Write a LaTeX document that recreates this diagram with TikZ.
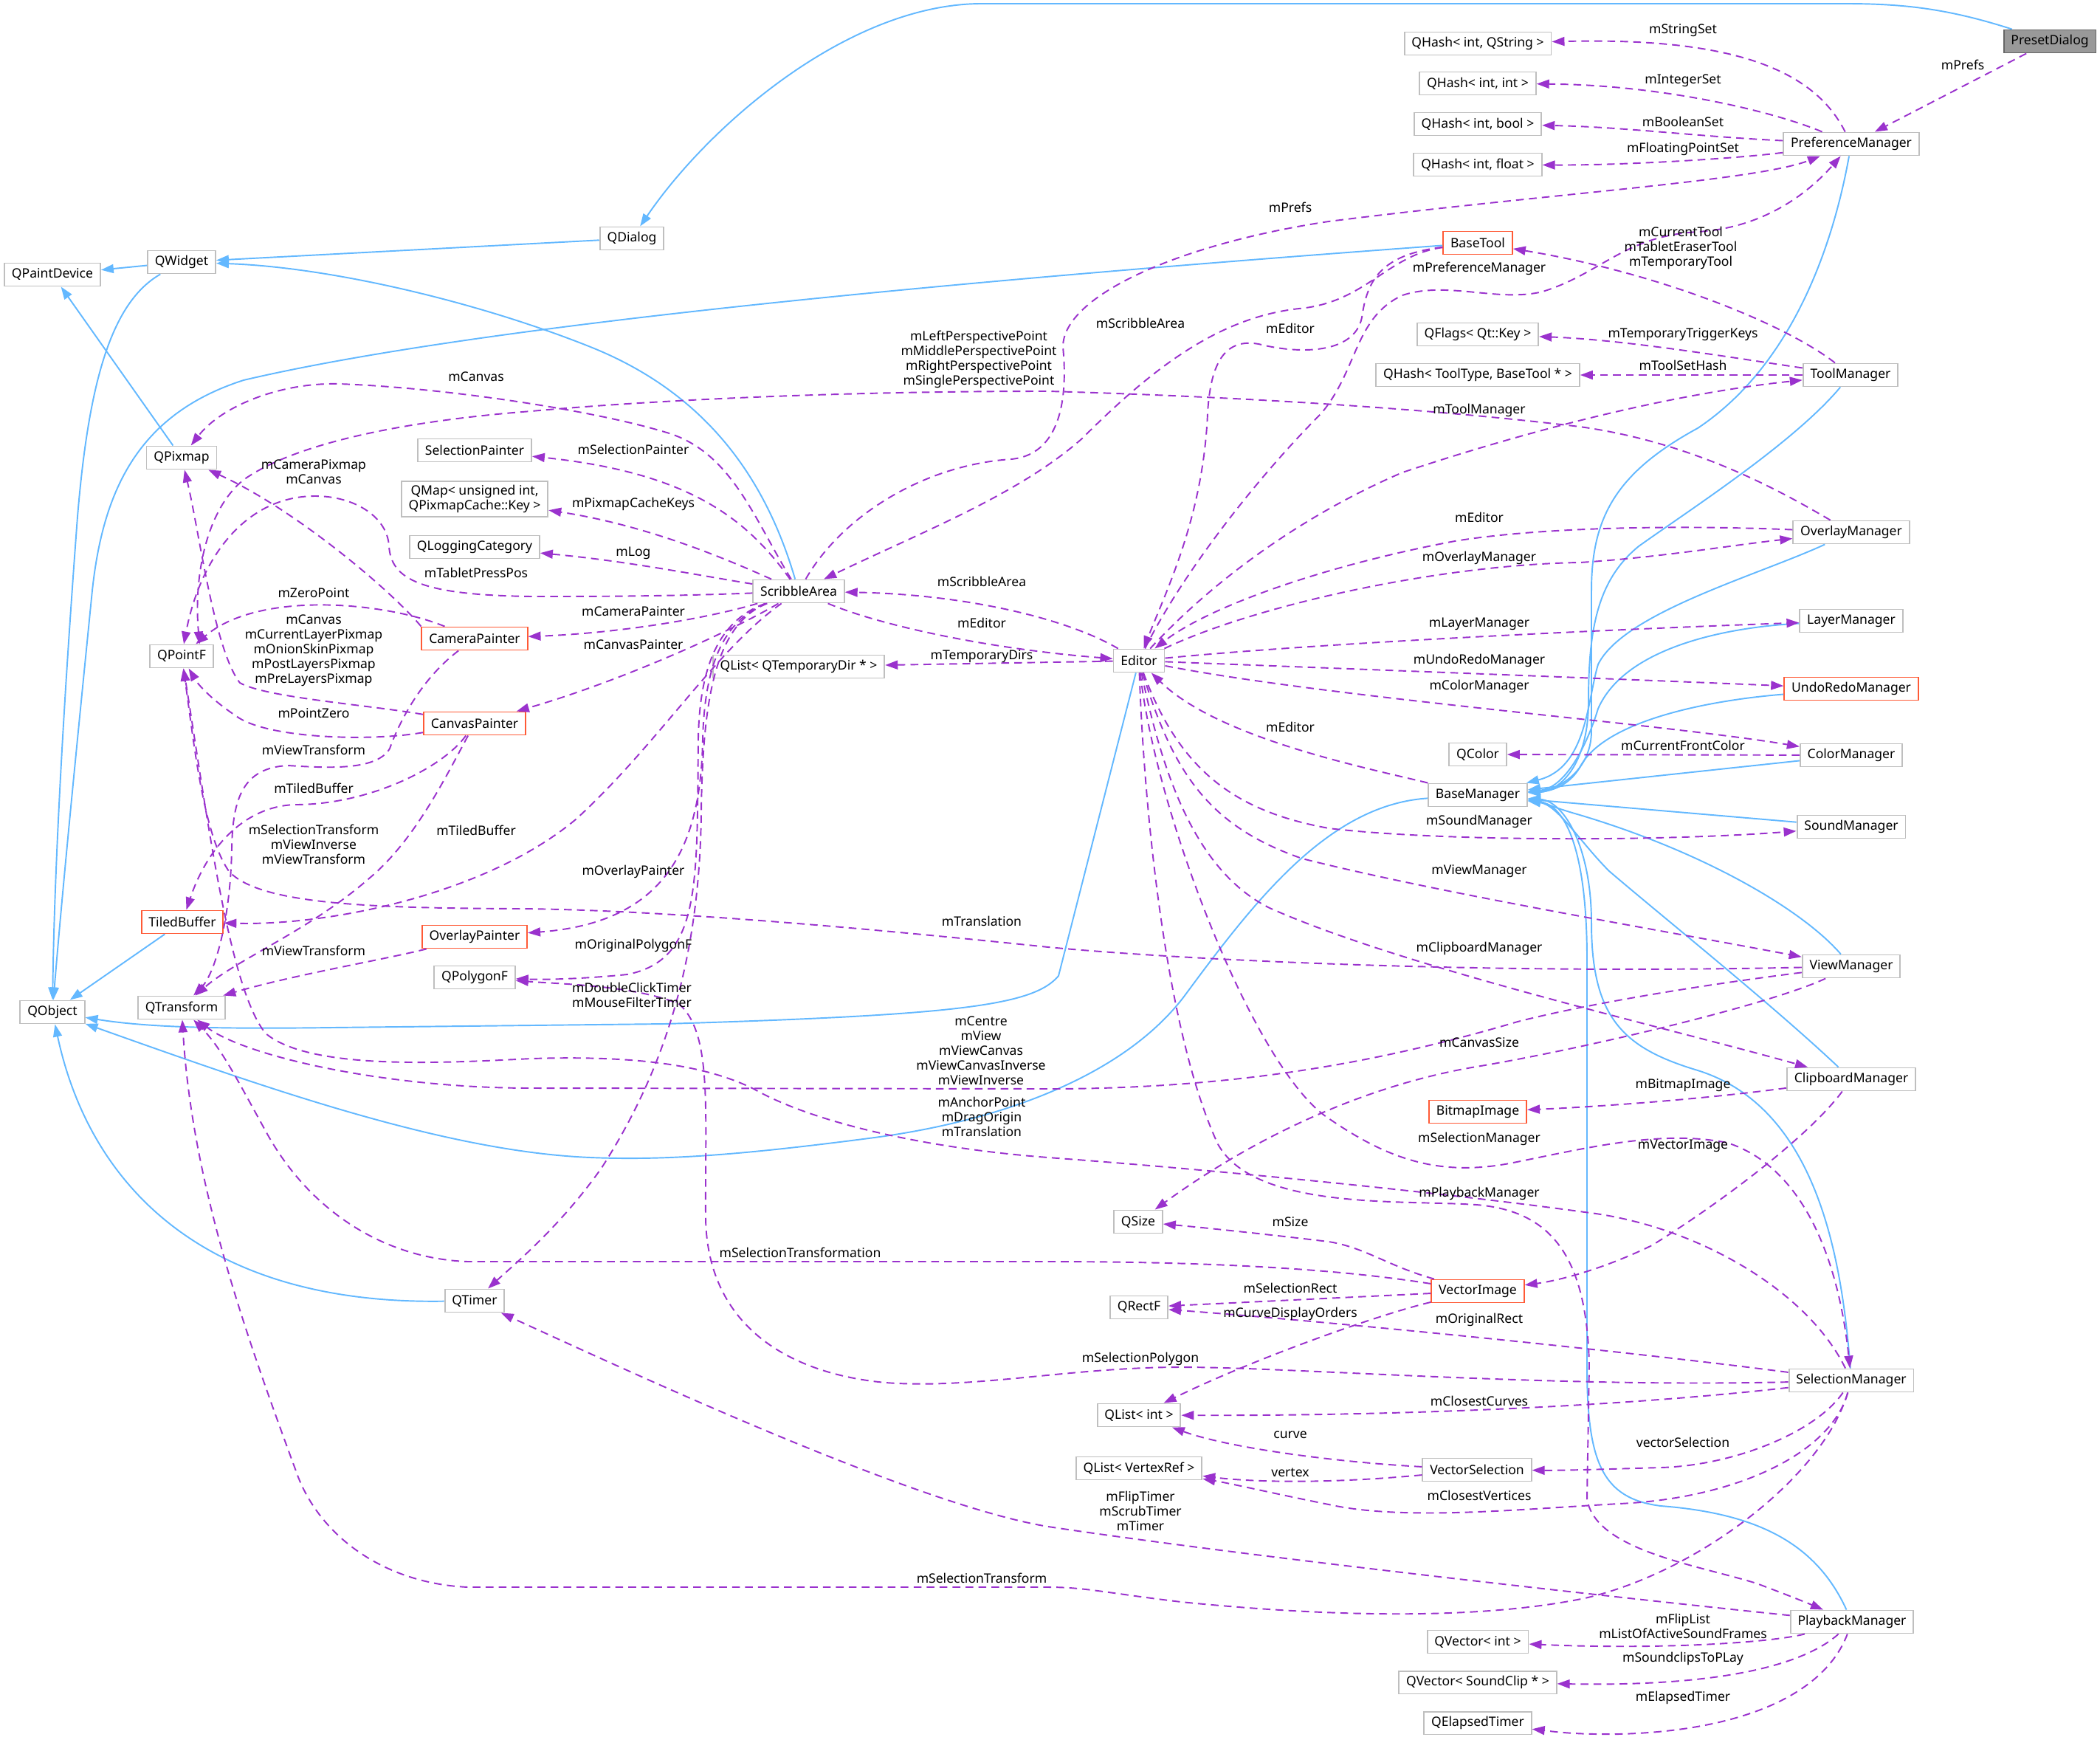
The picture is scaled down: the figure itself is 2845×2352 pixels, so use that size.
\documentclass[tikz,border=0pt]{standalone}
\usepackage{fontspec}
\setmainfont{Noto Sans}
\usetikzlibrary{arrows.meta}
\definecolor{inhblue}{HTML}{63B8FF}
\definecolor{mempurple}{HTML}{9A32CD}
\definecolor{boxgray}{HTML}{BFBFBF}
\definecolor{boxred}{HTML}{FF5A36}
\definecolor{rootfill}{HTML}{999999}
\definecolor{rootdraw}{HTML}{666666}
\begin{document}
\begin{tikzpicture}[x=0.02cm,y=-0.02cm]

\tikzset{mynode/.style={rectangle,draw=boxgray,fill=white,line width=1.1pt,inner xsep=5.6pt,inner ysep=3pt,minimum height=0.62cm,align=center,font=\fontsize{10}{11.4}\selectfont},}
\tikzset{mynode2/.style={mynode,draw=boxred},}
\tikzset{mynode3/.style={mynode,draw=rootdraw,fill=rootfill},}
\tikzset{lbl/.style={inner sep=0pt,align=center,font=\fontsize{10}{11.4}\selectfont},}
\tikzset{inh/.style={draw=inhblue,line width=1.1pt,-{Triangle[length=0.34cm,width=0.24cm]}},}
\tikzset{mem/.style={draw=mempurple,line width=1.1pt,dash pattern=on 6pt off 4pt,-{Triangle[length=0.34cm,width=0.24cm]}},}

\useasboundingbox (0,0) rectangle (2845,2352);

%BASE CLASSES
\draw (71,372) node [mynode] (qpaintdevice) {QPaintDevice};
\draw (71,1371) node [mynode] (qobject) {QObject};
\draw (246,355) node [mynode] (qwidget) {QWidget};
\draw (246,620) node [mynode] (qpixmap) {QPixmap};
\draw (246,889) node [mynode] (qpointf) {QPointF};
\draw (247,1249) node [mynode2] (tiledbuffer) {TiledBuffer};
\draw (246,1365) node [mynode] (qtransform) {QTransform};

%PAINTERS
\draw (643,610) node [mynode] (selpainter) {SelectionPainter};
\draw (643,676) node [mynode] (qmap) {QMap< unsigned int,\\QPixmapCache::Key >};
\draw (643,741) node [mynode] (qlogcat) {QLoggingCategory};
\draw (643,865) node [mynode2] (campainter) {CameraPainter};
\draw (643,980) node [mynode2] (canvpainter) {CanvasPainter};
\draw (643,1269) node [mynode2] (ovlpainter) {OverlayPainter};
\draw (643,1324) node [mynode] (qpolygonf) {QPolygonF};
\draw (643,1762) node [mynode] (qtimer) {QTimer};

%SCRIBBLEAREA
\draw (856,323) node [mynode] (qdialog) {QDialog};
\draw (1082,801) node [mynode] (scribble) {ScribbleArea};
\draw (1082,903) node [mynode] (qlisttmp) {QList< QTemporaryDir * >};

%EDITOR
\draw (1543,895) node [mynode] (editor) {Editor};
\draw (1542,1655) node [mynode] (qsize) {QSize};
\draw (1543,1771) node [mynode] (qrectf) {QRectF};
\draw (1543,1917) node [mynode] (qlistint) {QList< int >};
\draw (1543,1989) node [mynode] (qlistvref) {QList< VertexRef >};

%TYPES
\draw (2002,59) node [mynode] (qhashstr) {QHash< int, QString >};
\draw (2002,113) node [mynode] (qhashint) {QHash< int, int >};
\draw (2002,168) node [mynode] (qhashbool) {QHash< int, bool >};
\draw (2002,223) node [mynode] (qhashfloat) {QHash< int, float >};
\draw (2002,329) node [mynode2] (basetool) {BaseTool};
\draw (2002,453) node [mynode] (qflags) {QFlags< Qt::Key >};
\draw (2002,508) node [mynode] (qhashtool) {QHash< ToolType, BaseTool * >};
\draw (2002,1022) node [mynode] (qcolor) {QColor};
\draw (2002,1077) node [mynode] (basemgr) {BaseManager};
\draw (2002,1506) node [mynode2] (bitmapimg) {BitmapImage};
\draw (2002,1749) node [mynode2] (vectorimg) {VectorImage};
\draw (2001,1991) node [mynode] (vectorsel) {VectorSelection};
\draw (2002,2224) node [mynode] (qvecint) {QVector< int >};
\draw (2002,2279) node [mynode] (qvecsound) {QVector< SoundClip * >};
\draw (2002,2334) node [mynode] (qelapsed) {QElapsedTimer};

%MANAGERS
\draw (2508,195) node [mynode] (prefmgr) {PreferenceManager};
\draw (2507,508) node [mynode] (toolmgr) {ToolManager};
\draw (2508,721) node [mynode] (ovlmgr) {OverlayManager};
\draw (2508,841) node [mynode] (layermgr) {LayerManager};
\draw (2508,933) node [mynode2] (undomgr) {UndoRedoManager};
\draw (2508,1023) node [mynode] (colormgr) {ColorManager};
\draw (2508,1120) node [mynode] (soundmgr) {SoundManager};
\draw (2508,1309) node [mynode] (viewmgr) {ViewManager};
\draw (2508,1462) node [mynode] (clipmgr) {ClipboardManager};
\draw (2508,1870) node [mynode] (selmgr) {SelectionManager};
\draw (2509,2197) node [mynode] (playmgr) {PlaybackManager};
\draw (2777,56) node [mynode3] (presetdlg) {PresetDialog};

%INHERITANCE
\draw[inh] (presetdlg) .. controls (2640,12) and (2580,5) .. (2500,5) -- (1330,5) .. controls (1150,5) and (960,170) .. (qdialog);
\draw[inh] (qdialog) -- (qwidget);
\draw[inh] (qwidget) -- (qpaintdevice);
\draw[inh] (qpixmap) -- (qpaintdevice);
\draw[inh] (qwidget) .. controls (150,410) and (120,520) .. (105,700) .. controls (90,900) and (74,1150) .. (qobject);
\draw[inh] (basetool) .. controls (1300,380) and (650,440) .. (330,515) .. controls (190,560) and (140,660) .. (125,800) .. controls (105,1000) and (85,1200) .. (qobject);
\draw[inh] (scribble) .. controls (1035,640) and (950,530) .. (800,470) .. controls (650,410) and (450,362) .. (qwidget);
\draw[inh] (basemgr) .. controls (1800,1090) and (1700,1220) .. (1604,1350) .. controls (1520,1460) and (1350,1520) .. (1177,1542) .. controls (1000,1565) and (900,1572) .. (800,1568) .. controls (600,1560) and (350,1470) .. (qobject);
\draw[inh] (editor) -- (1434,1322) .. controls (1400,1362) and (1300,1375) .. (900,1387) -- (450,1392) .. controls (300,1394) and (200,1392) .. (qobject);
\draw[inh] (tiledbuffer) -- (qobject);
\draw[inh] (qtimer) .. controls (270,1768) and (120,1600) .. (qobject);
\draw[inh] (prefmgr) .. controls (2480,350) and (2420,500) .. (2300,580) .. controls (2190,640) and (2156,700) .. (2156,800) -- (2156,990) .. controls (2156,1045) and (2110,1070) .. (basemgr);
\draw[inh] (toolmgr) .. controls (2430,600) and (2290,690) .. (2220,740) .. controls (2165,785) and (2152,850) .. (2152,950) .. controls (2152,1040) and (2110,1072) .. (basemgr);
\draw[inh] (ovlmgr) .. controls (2380,780) and (2200,830) .. (2165,900) .. controls (2150,950) and (2150,1040) .. (basemgr);
\draw[inh] (layermgr) .. controls (2330,850) and (2200,880) .. (2165,960) .. controls (2150,1010) and (2120,1068) .. (basemgr);
\draw[inh] (undomgr) .. controls (2300,950) and (2170,980) .. (2140,1040) .. controls (2125,1065) and (2100,1072) .. (basemgr);
\draw[inh] (colormgr) -- (basemgr);
\draw[inh] (soundmgr) -- (basemgr);
\draw[inh] (viewmgr) .. controls (2440,1230) and (2300,1150) .. (2130,1101) .. controls (2100,1092) and (2085,1085) .. (basemgr);
\draw[inh] (clipmgr) .. controls (2400,1360) and (2250,1240) .. (2180,1180) .. controls (2140,1140) and (2110,1090) .. (basemgr);
\draw[inh] (selmgr) .. controls (2495,1700) and (2460,1500) .. (2300,1450) .. controls (2200,1420) and (2156,1380) .. (2156,1250) .. controls (2156,1150) and (2120,1085) .. (basemgr);
\draw[inh] (playmgr) .. controls (2460,2090) and (2380,2050) .. (2250,2040) .. controls (2170,2030) and (2150,1980) .. (2150,1850) -- (2150,1300) .. controls (2150,1150) and (2120,1090) .. (basemgr);

%PREFERENCES AND TOOLS
\draw[mem] (presetdlg) -- (prefmgr);
\draw[mem] (prefmgr) .. controls (2460,100) and (2360,50) .. (qhashstr);
\draw[mem] (prefmgr) .. controls (2400,150) and (2250,115) .. (qhashint);
\draw[mem] (prefmgr) .. controls (2300,185) and (2200,172) .. (qhashbool);
\draw[mem] (prefmgr) .. controls (2350,215) and (2200,224) .. (qhashfloat);
\draw[mem] (scribble) .. controls (1140,700) and (1250,630) .. (1370,622) .. controls (1445,615) and (1445,520) .. (1440,470) .. controls (1440,400) and (1600,330) .. (1800,300) .. controls (2100,262) and (2380,245) .. (prefmgr);
\draw[mem] (basetool) .. controls (1880,345) and (1850,410) .. (1760,418) .. controls (1650,430) and (1560,500) .. (1466,594) .. controls (1380,670) and (1250,720) .. (scribble);
\draw[mem] (basetool) .. controls (1870,345) and (1852,380) .. (1845,430) .. controls (1835,480) and (1760,480) .. (1705,466) .. controls (1660,458) and (1640,490) .. (1636,560) .. controls (1630,700) and (1580,800) .. (editor);
\draw[mem] (editor) .. controls (1600,780) and (1700,650) .. (1790,560) .. controls (1840,500) and (1835,430) .. (1900,400) .. controls (1960,380) and (2030,410) .. (2090,395) .. controls (2170,370) and (2200,320) .. (2300,314) .. controls (2400,308) and (2460,250) .. (prefmgr);
\draw[mem] (editor) .. controls (1640,790) and (1760,700) .. (1900,640) .. controls (2050,590) and (2250,535) .. (toolmgr);
\draw[mem] (toolmgr) .. controls (2420,440) and (2250,370) .. (basetool);
\draw[mem] (toolmgr) .. controls (2350,485) and (2200,460) .. (qflags);
\draw[mem] (toolmgr) -- (qhashtool);
\draw[mem] (ovlmgr) .. controls (2420,670) and (2300,600) .. (2140,578) .. controls (1950,555) and (1700,538) .. (1420,530) .. controls (1100,530) and (850,545) .. (720,557) .. controls (550,570) and (400,600) .. (330,650) .. controls (280,690) and (262,780) .. (qpointf.34);

%SCRIBBLEAREA
\draw[mem] (scribble) .. controls (1020,700) and (990,610) .. (900,585) .. controls (800,555) and (600,525) .. (459,520) .. controls (380,518) and (300,550) .. (qpixmap);
\draw[mem] (scribble) .. controls (1010,700) and (930,640) .. (selpainter);
\draw[mem] (scribble) .. controls (990,760) and (880,712) .. (qmap);
\draw[mem] (scribble) .. controls (950,780) and (850,760) .. (qlogcat);
\draw[mem] (scribble) .. controls (900,808) and (800,808) .. (720,808) .. controls (570,806) and (530,785) .. (527,740) .. controls (525,700) and (480,672) .. (427,672) .. controls (330,672) and (270,760) .. (qpointf);
\draw[mem] (scribble) .. controls (950,840) and (830,858) .. (campainter);
\draw[mem] (scribble) .. controls (1000,850) and (850,920) .. (canvpainter);
\draw[mem] (scribble) .. controls (970,880) and (890,1010) .. (780,1110) .. controls (660,1210) and (450,1254) .. (tiledbuffer);
\draw[mem] (scribble) .. controls (980,840) and (955,900) .. (952,1000) .. controls (950,1150) and (900,1250) .. (ovlpainter);
\draw[mem] (scribble) .. controls (975,840) and (948,900) .. (946,1000) .. controls (944,1200) and (950,1300) .. (850,1320) .. controls (780,1327) and (730,1327) .. (qpolygonf);
\draw[mem] (scribble) .. controls (968,845) and (952,950) .. (950,1100) .. controls (948,1300) and (900,1450) .. (815,1582) .. controls (760,1660) and (700,1710) .. (qtimer);
\draw[mem] (scribble) .. controls (1200,850) and (1350,880) .. (editor);

%EDITOR
\draw[mem] (editor) .. controls (1440,835) and (1300,805) .. (scribble);
\draw[mem] (editor) -- (qlisttmp);
\draw[mem] (ovlmgr) .. controls (2300,712) and (2100,712) .. (1971,733) .. controls (1800,765) and (1640,820) .. (editor);
\draw[mem] (editor) .. controls (1700,820) and (1950,765) .. (2140,762) .. controls (2250,755) and (2350,738) .. (ovlmgr);
\draw[mem] (editor) .. controls (1800,870) and (2200,852) .. (layermgr);
\draw[mem] (editor) .. controls (1800,905) and (2200,920) .. (undomgr);
\draw[mem] (editor) .. controls (1800,945) and (2250,980) .. (colormgr);
\draw[mem] (editor) .. controls (1600,1050) and (1680,1100) .. (1800,1122) .. controls (1950,1140) and (2250,1140) .. (soundmgr);
\draw[mem] (editor) .. controls (1590,1050) and (1640,1120) .. (1764,1163) .. controls (1950,1210) and (2250,1260) .. (viewmgr);
\draw[mem] (editor) .. controls (1575,1050) and (1620,1180) .. (1720,1230) .. controls (1900,1310) and (2250,1390) .. (clipmgr);
\draw[mem] (editor) .. controls (1565,1100) and (1700,1450) .. (1800,1515) .. controls (1880,1570) and (1950,1595) .. (2050,1575) .. controls (2150,1555) and (2250,1530) .. (2340,1548) .. controls (2440,1580) and (2490,1700) .. (selmgr);
\draw[mem] (editor) .. controls (1550,1100) and (1580,1400) .. (1650,1550) .. controls (1700,1640) and (1900,1625) .. (2000,1632) .. controls (2100,1640) and (2150,1700) .. (2153,1850) -- (2150,2030) .. controls (2160,2100) and (2300,2120) .. (2380,2145) .. controls (2420,2160) and (2445,2170) .. (playmgr);
\draw[mem] (basemgr) .. controls (1850,1040) and (1650,1000) .. (editor);
\draw[mem] (colormgr) -- (qcolor);

%VIEW AND CLIPBOARD
\draw[mem] (viewmgr) .. controls (2000,1320) and (1600,1300) .. (1420,1283) .. controls (1200,1260) and (900,1232) .. (700,1231) .. controls (500,1230) and (350,1225) .. (310,1180) .. controls (275,1130) and (262,1000) .. (qpointf);
\draw[mem] (viewmgr) .. controls (2300,1335) and (2150,1360) .. (2056,1384) .. controls (1900,1430) and (1700,1475) .. (1420,1475) -- (720,1474) .. controls (520,1474) and (330,1430) .. (qtransform);
\draw[mem] (viewmgr) .. controls (2400,1360) and (2150,1420) .. (2000,1445) .. controls (1850,1470) and (1700,1540) .. (qsize);
\draw[mem] (clipmgr) .. controls (2300,1490) and (2150,1500) .. (bitmapimg);
\draw[mem] (clipmgr) .. controls (2450,1540) and (2330,1630) .. (2238,1687) .. controls (2170,1720) and (2110,1735) .. (vectorimg);

%VECTOR IMAGE AND SELECTION
\draw[mem] (vectorimg) .. controls (1880,1715) and (1850,1690) .. (1800,1682) .. controls (1700,1670) and (1620,1662) .. (qsize);
\draw[mem] (vectorimg) -- (qrectf);
\draw[mem] (vectorimg) .. controls (1870,1780) and (1700,1840) .. (qlistint);
\draw[mem] (vectorimg) .. controls (1850,1725) and (1700,1709) .. (1420,1709) -- (634,1709) .. controls (520,1705) and (420,1640) .. (362,1536) .. controls (320,1460) and (300,1420) .. (qtransform);
\draw[mem] (selmgr) .. controls (2450,1750) and (2300,1660) .. (2147,1642) .. controls (1950,1615) and (1650,1585) .. (1420,1568) .. controls (1250,1555) and (1100,1520) .. (1021,1475) .. controls (950,1440) and (850,1430) .. (720,1434) .. controls (600,1440) and (420,1450) .. (360,1400) .. controls (310,1340) and (280,1100) .. (qpointf);
\draw[mem] (selmgr) .. controls (2200,1830) and (1800,1790) .. (qrectf);
\draw[mem] (selmgr) .. controls (2200,1905) and (1900,1918) .. (qlistint);
\draw[mem] (selmgr) .. controls (2460,1940) and (2350,1985) .. (2250,1988) .. controls (2180,1990) and (2120,1992) .. (vectorsel);
\draw[mem] (selmgr) .. controls (2480,1970) and (2350,2030) .. (2193,2037) .. controls (2050,2045) and (1900,2060) .. (1800,2038) .. controls (1720,2022) and (1670,2010) .. (qlistvref);
\draw[mem] (selmgr) .. controls (2100,1880) and (1750,1852) .. (1600,1852) .. controls (1450,1852) and (1320,1882) .. (1200,1873) .. controls (1060,1860) and (958,1790) .. (956,1650) .. controls (955,1500) and (965,1400) .. (920,1360) .. controls (860,1335) and (760,1333) .. (qpolygonf);
\draw[mem] (selmgr) .. controls (2470,2000) and (2300,2130) .. (2147,2165) .. controls (2000,2195) and (1800,2190) .. (1600,2170) .. controls (1500,2158) and (1470,2150) .. (1420,2150) -- (634,2150) .. controls (520,2145) and (430,2080) .. (400,1990) .. controls (330,1800) and (260,1600) .. (qtransform);
\draw[mem] (vectorsel) .. controls (1800,1980) and (1660,1960) .. (qlistint);
\draw[mem] (vectorsel) .. controls (1800,2010) and (1700,2008) .. (qlistvref);

%PLAYBACK
\draw[mem] (playmgr) .. controls (2200,2165) and (1700,2110) .. (1420,2068) .. controls (1250,2040) and (900,1880) .. (qtimer);
\draw[mem] (playmgr) .. controls (2400,2225) and (2250,2235) .. (qvecint);
\draw[mem] (playmgr) .. controls (2450,2250) and (2350,2285) .. (qvecsound);
\draw[mem] (playmgr) .. controls (2470,2300) and (2350,2345) .. (2193,2349) .. controls (2130,2350) and (2100,2345) .. (qelapsed);

%PAINTERS
\draw[mem] (campainter) .. controls (520,815) and (350,800) .. (qpointf);
\draw[mem] (campainter.north west) .. controls (530,800) and (400,690) .. (qpixmap);
\draw[mem] (campainter) .. controls (570,920) and (540,980) .. (528,1014) .. controls (510,1045) and (440,1040) .. (390,1037) .. controls (330,1040) and (315,1080) .. (314,1150) .. controls (312,1250) and (290,1320) .. (qtransform);
\draw[mem] (canvpainter) .. controls (500,955) and (360,945) .. (325,925) .. controls (290,880) and (270,720) .. (qpixmap);
\draw[mem] (canvpainter) .. controls (500,1005) and (360,1000) .. (320,970) .. controls (290,950) and (270,930) .. (qpointf);
\draw[mem] (canvpainter) .. controls (600,1040) and (500,1090) .. (400,1090) .. controls (330,1092) and (280,1150) .. (tiledbuffer);
\draw[mem] (canvpainter) .. controls (600,1060) and (560,1140) .. (500,1190) .. controls (420,1260) and (320,1300) .. (qtransform);
\draw[mem] (ovlpainter) .. controls (520,1300) and (400,1320) .. (qtransform);

%LABELS
\draw (2280,41) node[lbl] (lStringSet) {mStringSet};
\draw (2280,109) node[lbl] (lIntegerSet) {mIntegerSet};
\draw (2280,165) node[lbl] (lBooleanSet) {mBooleanSet};
\draw (2280,202) node[lbl] (lFloatSet) {mFloatingPointSet};
\draw (2659,88) node[lbl] (lPrefs1) {mPrefs};
\draw (1748,281) node[lbl] (lPrefs2) {mPrefs};
\draw (2277,336) node[lbl] (lCurTool) {mCurrentTool\\mTabletEraserTool\\mTemporaryTool};
\draw (2004,364) node[lbl] (lPrefMgr) {mPreferenceManager};
\draw (1545,438) node[lbl] (lScribble1) {mScribbleArea};
\draw (1748,445) node[lbl] (lEditor1) {mEditor};
\draw (2280,453) node[lbl] (lTrigger) {mTemporaryTriggerKeys};
\draw (2280,495) node[lbl] (lToolSet) {mToolSetHash};
\draw (1326,487) node[lbl] (lPersp) {mLeftPerspectivePoint\\mMiddlePerspectivePoint\\mRightPerspectivePoint\\mSinglePerspectivePoint};
\draw (645,510) node[lbl] (lCanvas1) {mCanvas};
\draw (2004,556) node[lbl] (lToolMgr) {mToolManager};
\draw (858,609) node[lbl] (lSelPainter) {mSelectionPainter};
\draw (425,639) node[lbl] (lCamPix) {mCameraPixmap\\mCanvas};
\draw (858,683) node[lbl] (lPixKeys) {mPixmapCacheKeys};
\draw (2004,701) node[lbl] (lEditor2) {mEditor};
\draw (2004,756) node[lbl] (lOvlMgr) {mOverlayManager};
\draw (858,749) node[lbl] (lLog) {mLog};
\draw (645,776) node[lbl] (lTablet) {mTabletPressPos};
\draw (1330,788) node[lbl] (lScribble2) {mScribbleArea};
\draw (425,803) node[lbl] (lZero) {mZeroPoint};
\draw (858,828) node[lbl] (lCamPainter) {mCameraPainter};
\draw (1330,844) node[lbl] (lEditor3) {mEditor};
\draw (2004,845) node[lbl] (lLayerMgr) {mLayerManager};
\draw (425,881) node[lbl] (lCanvas2) {mCanvas\\mCurrentLayerPixmap\\mOnionSkinPixmap\\mPostLayersPixmap\\mPreLayersPixmap};
\draw (858,873) node[lbl] (lCanvPainter) {mCanvasPainter};
\draw (1330,889) node[lbl] (lTmpDirs) {mTemporaryDirs};
\draw (2004,895) node[lbl] (lUndoMgr) {mUndoRedoManager};
\draw (2004,930) node[lbl] (lColorMgr) {mColorManager};
\draw (425,966) node[lbl] (lPointZero) {mPointZero};
\draw (1748,985) node[lbl] (lEditor4) {mEditor};
\draw (2280,1010) node[lbl] (lFrontColor) {mCurrentFrontColor};
\draw (425,1016) node[lbl] (lViewTr1) {mViewTransform};
\draw (425,1068) node[lbl] (lTiled1) {mTiledBuffer};
\draw (2004,1113) node[lbl] (lSoundMgr) {mSoundManager};
\draw (425,1144) node[lbl] (lSelTr1) {mSelectionTransform\\mViewInverse\\mViewTransform};
\draw (645,1125) node[lbl] (lTiled2) {mTiledBuffer};
\draw (2004,1180) node[lbl] (lViewMgr) {mViewManager};
\draw (858,1181) node[lbl] (lOvlPainter) {mOverlayPainter};
\draw (1330,1248) node[lbl] (lTransl1) {mTranslation};
\draw (425,1288) node[lbl] (lViewTr2) {mViewTransform};
\draw (858,1281) node[lbl] (lOrigPoly) {mOriginalPolygonF};
\draw (2004,1285) node[lbl] (lClipMgr) {mClipboardManager};
\draw (856,1348) node[lbl] (lTimers1) {mDoubleClickTimer\\mMouseFilterTimer};
\draw (1329,1423) node[lbl] (lCentre) {mCentre\\mView\\mViewCanvas\\mViewCanvasInverse\\mViewInverse};
\draw (2004,1412) node[lbl] (lCanvSize) {mCanvasSize};
\draw (1330,1513) node[lbl] (lAnchor) {mAnchorPoint\\mDragOrigin\\mTranslation};
\draw (2280,1470) node[lbl] (lBitmap) {mBitmapImage};
\draw (2004,1543) node[lbl] (lSelMgr) {mSelectionManager};
\draw (2280,1552) node[lbl] (lVector) {mVectorImage};
\draw (2004,1617) node[lbl] (lPlayMgr) {mPlaybackManager};
\draw (1748,1655) node[lbl] (lSize) {mSize};
\draw (1084,1697) node[lbl] (lSelTr2) {mSelectionTransformation};
\draw (1748,1745) node[lbl] (lSelRect) {mSelectionRect};
\draw (1748,1780) node[lbl] (lCurveOrd) {mCurveDisplayOrders};
\draw (2004,1788) node[lbl] (lOrigRect) {mOriginalRect};
\draw (1545,1841) node[lbl] (lSelPoly) {mSelectionPolygon};
\draw (2004,1898) node[lbl] (lCurves) {mClosestCurves};
\draw (1748,1944) node[lbl] (lCurve) {curve};
\draw (2280,1954) node[lbl] (lVecSel) {vectorSelection};
\draw (1748,1995) node[lbl] (lVertex) {vertex};
\draw (2004,2026) node[lbl] (lVertices) {mClosestVertices};
\draw (1545,2047) node[lbl] (lTimers2) {mFlipTimer\\mScrubTimer\\mTimer};
\draw (1330,2138) node[lbl] (lSelTr3) {mSelectionTransform};
\draw (2280,2203) node[lbl] (lFlip) {mFlipList\\mListOfActiveSoundFrames};
\draw (2280,2247) node[lbl] (lSoundclips) {mSoundclipsToPLay};
\draw (2280,2300) node[lbl] (lElapsed) {mElapsedTimer};

\end{tikzpicture}
\end{document}
